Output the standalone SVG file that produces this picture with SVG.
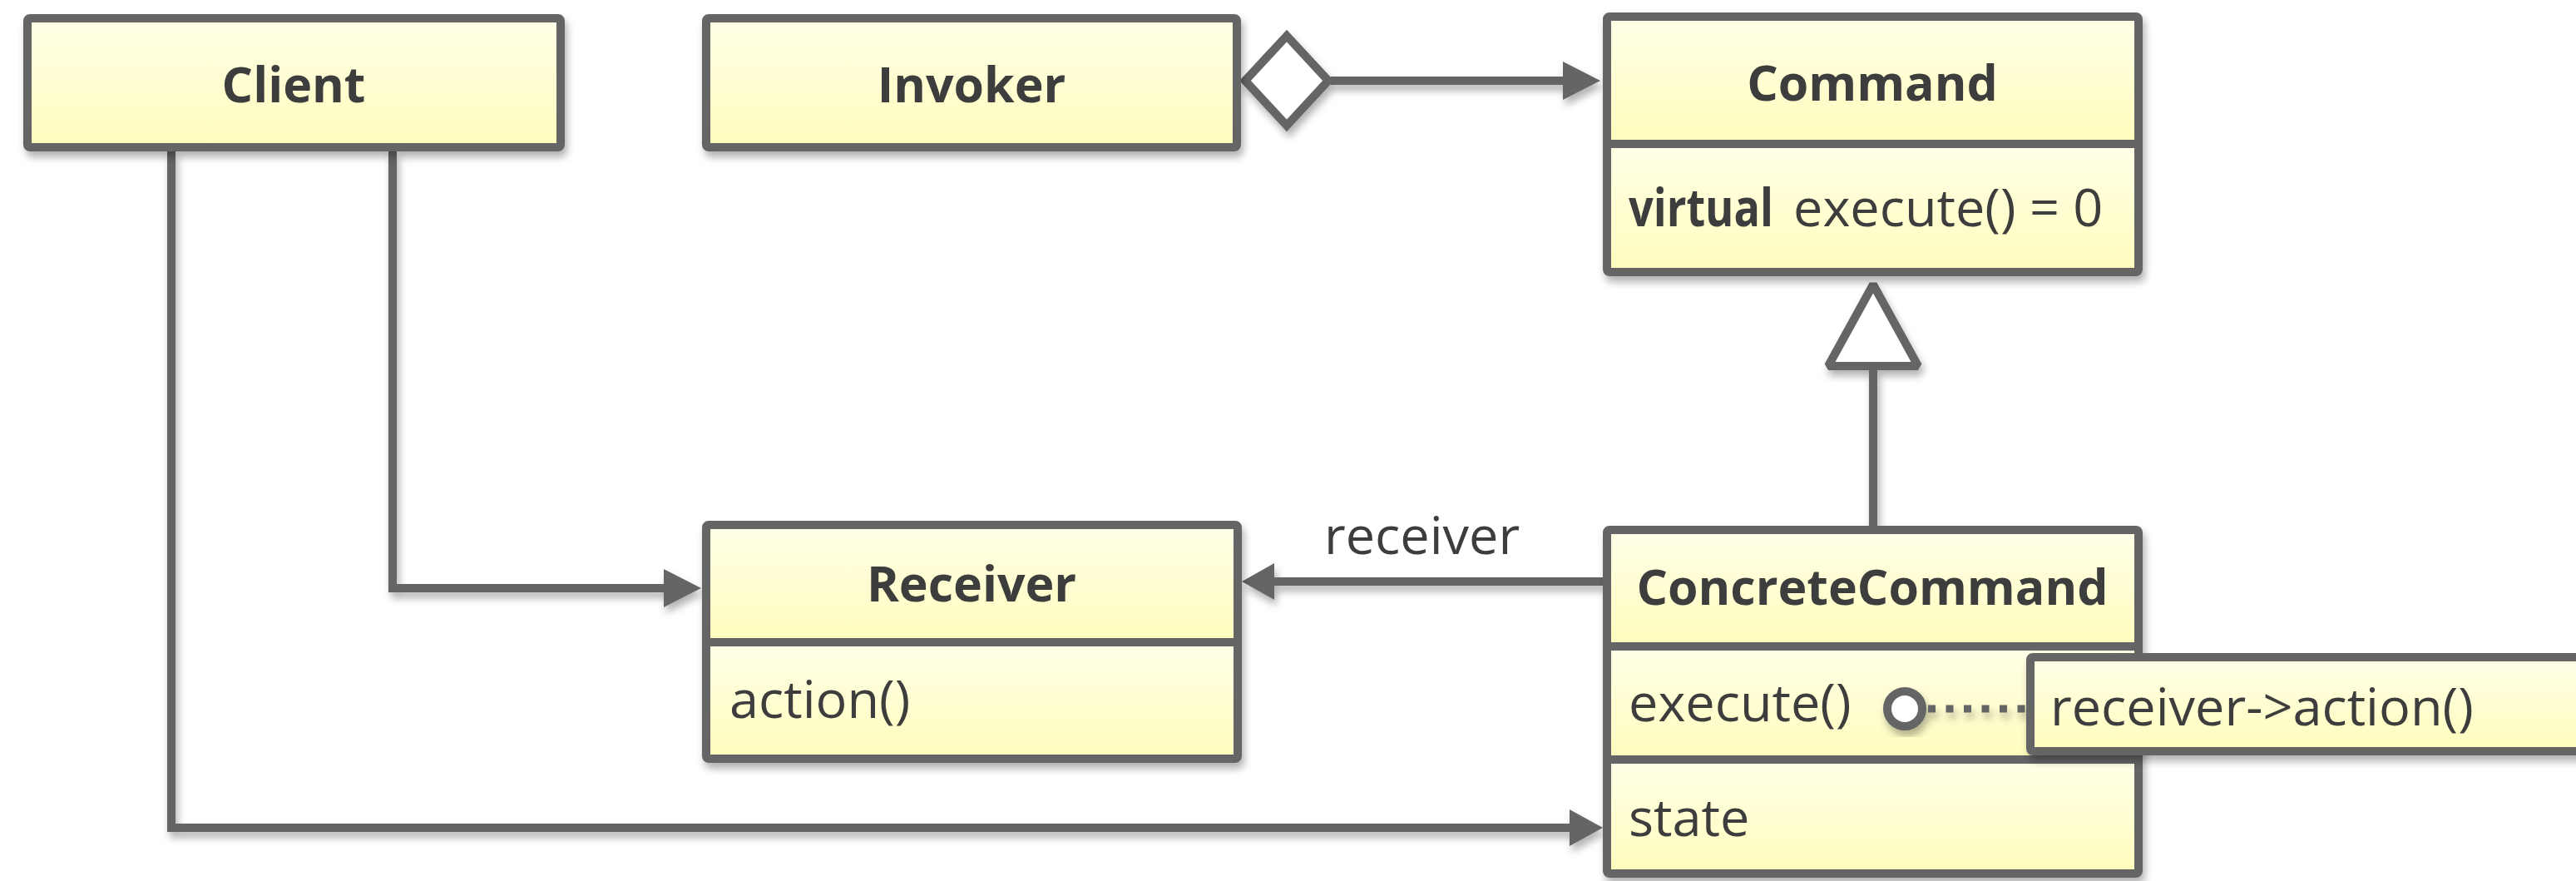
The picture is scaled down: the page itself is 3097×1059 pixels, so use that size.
<svg xmlns="http://www.w3.org/2000/svg" width="3097" height="1059" viewBox="0 0 3097 1059">
<defs>
  <linearGradient id="g" x1="0" y1="0" x2="0" y2="1">
    <stop offset="0" stop-color="#FFFFE8"/>
    <stop offset="1" stop-color="#FFFDBC"/>
  </linearGradient>
  <filter id="sh" x="-10%" y="-20%" width="130%" height="150%">
    <feDropShadow dx="3" dy="7" stdDeviation="5" flood-color="#000" flood-opacity="0.3"/>
  </filter>
  <style>
    .box{fill:none;stroke:#656565;stroke-width:10;stroke-linejoin:round}
    .cmp{fill:url(#g);stroke:none}
    .div{stroke:#656565;stroke-width:10}
    .ln{fill:none;stroke:#656565;stroke-width:10}
    .ah{fill:#656565;stroke:none}
    .t{font-family:"Open Sans","Liberation Sans",sans-serif;fill:#3d3d3d;font-size:63px}
    .b{font-weight:bold;font-size:59px}
  </style>
</defs>
<rect width="3097" height="1059" fill="#ffffff"/>

<g id="connectors" filter="url(#sh)">
  <!-- Invoker to Command aggregation -->
  <line class="ln" x1="1600" y1="97" x2="1882" y2="97"/>
  <polygon class="ah" points="1879,74 1924,97 1879,120"/>
  <polygon points="1497,97 1547,43 1597,97 1547,151" fill="#ffffff" stroke="#656565" stroke-width="10"/>
  <!-- Client to Receiver -->
  <path class="ln" d="M472,182 V707 H800"/>
  <polygon class="ah" points="798,684 843,707 798,730"/>
  <!-- Client to ConcreteCommand -->
  <path class="ln" d="M206,182 V995 H1890"/>
  <polygon class="ah" points="1887,973 1927,995 1887,1017"/>
  <!-- ConcreteCommand to Receiver -->
  <line class="ln" x1="1927" y1="699" x2="1528" y2="699"/>
  <polygon class="ah" points="1532,677 1493,699 1532,721"/>
  <!-- inheritance -->
  <line class="ln" x1="2252" y1="632" x2="2252" y2="440"/>
  <polygon points="2252,342 2198,440 2306,440" fill="#ffffff" stroke="#656565" stroke-width="10" stroke-linejoin="bevel"/>
</g>
<text class="t" x="1592" y="666">receiver</text>

<g id="client" filter="url(#sh)">
  <rect class="cmp" x="33" y="22" width="641" height="155"/>
  <rect class="box" x="33" y="22" width="641" height="155" rx="3"/>
</g>
<text class="t b" x="353" y="123" text-anchor="middle">Client</text>

<g id="invoker" filter="url(#sh)">
  <rect class="cmp" x="849" y="22" width="638" height="155"/>
  <rect class="box" x="849" y="22" width="638" height="155" rx="3"/>
</g>
<text class="t b" x="1168" y="123" text-anchor="middle">Invoker</text>

<g id="command" filter="url(#sh)">
  <rect class="cmp" x="1932" y="20" width="639" height="153"/>
  <rect class="cmp" x="1932" y="173" width="639" height="154"/>
  <rect class="box" x="1932" y="20" width="639" height="307" rx="3"/>
  <line class="div" x1="1932" y1="173" x2="2571" y2="173"/>
</g>
<text class="t b" x="2251" y="121" text-anchor="middle">Command</text>
<text class="t" x="1958" y="272" font-size="60" font-weight="bold" textLength="174" lengthAdjust="spacingAndGlyphs">virtual</text>
<text class="t" x="2156" y="272" font-size="60">execute() = 0</text>

<g id="receiver" filter="url(#sh)">
  <rect class="cmp" x="849" y="631" width="639" height="141"/>
  <rect class="cmp" x="849" y="772" width="639" height="140"/>
  <rect class="box" x="849" y="631" width="639" height="281" rx="3"/>
  <line class="div" x1="849" y1="772" x2="1488" y2="772"/>
</g>
<text class="t b" x="1168" y="723" text-anchor="middle">Receiver</text>
<text class="t" x="877" y="863">action()</text>

<g id="concretecommand" filter="url(#sh)">
  <rect class="cmp" x="1932" y="637" width="639" height="140"/>
  <rect class="cmp" x="1932" y="777" width="639" height="136"/>
  <rect class="cmp" x="1932" y="913" width="639" height="137"/>
  <rect class="box" x="1932" y="637" width="639" height="413" rx="3"/>
  <line class="div" x1="1932" y1="777" x2="2571" y2="777"/>
  <line class="div" x1="1932" y1="913" x2="2571" y2="913"/>
</g>
<text class="t b" x="2251" y="727" text-anchor="middle">ConcreteCommand</text>
<text class="t" x="1958" y="867">execute()</text>
<text class="t" x="1958" y="1005">state</text>

<g id="note-link" filter="url(#sh)">
  <line x1="2318" y1="852" x2="2438" y2="852" stroke="#656565" stroke-width="9" stroke-dasharray="9 12.5"/>
  <circle cx="2290" cy="852" r="21" fill="#ffffff" stroke="#656565" stroke-width="10"/>
</g>

<g id="note" filter="url(#sh)">
  <rect class="cmp" x="2441" y="790" width="700" height="113"/>
  <rect class="box" x="2441" y="790" width="700" height="113" rx="3"/>
</g>
<text class="t" x="2465" y="872">receiver-&gt;action()</text>
</svg>
